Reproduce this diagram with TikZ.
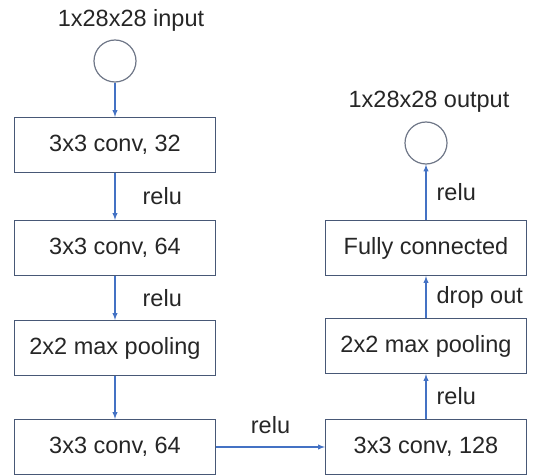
\documentclass[tikz,border=0pt]{standalone}
\usepackage{fontspec}
\setmainfont{Liberation Sans}
\usepackage{xcolor}
\usepackage{tikz}

\definecolor{linkblue}{RGB}{68,114,196}
\definecolor{boxgray}{RGB}{72,88,118}
\definecolor{ringgray}{RGB}{110,118,135}
\definecolor{textgray}{RGB}{38,38,38}

\begin{document}
\begin{tikzpicture}[x=1pt, y=-1pt,
        every node/.style={font=\fontsize{23.5}{28}\selectfont, text=textgray},
        layer/.style={draw=boxgray, line width=1.2pt, minimum width=201pt, minimum height=55pt, inner sep=0pt},
        port/.style={draw=ringgray, line width=1.2pt, circle, minimum size=42pt, inner sep=0pt},
        link/.style={draw=linkblue, line width=1.3pt, -latex},
        tag/.style={inner sep=0pt}]
        \useasboundingbox (0,0) rectangle (533,476);

        % left column
        \node[port] (in) at (115,61) {};
        \node[tag] (inlabel) at (131,20) {1x28x28 input};
        \node[layer] (conv1) at (115,145) {3x3 conv, 32};
        \node[layer] (conv2) at (115,248) {3x3 conv, 64};
        \node[layer] (pool1) at (115,348) {2x2 max pooling};
        \node[layer] (conv3) at (115,447) {3x3 conv, 64};

        % right column
        \node[layer] (conv4) at (426,447) {3x3 conv, 128};
        \node[layer] (pool2) at (426,346) {2x2 max pooling};
        \node[layer] (fc) at (426,248) {Fully connected};
        \node[port] (out) at (426,143) {};
        \node[tag] (outlabel) at (429,102) {1x28x28 output};

        \draw[link] (in) -- (conv1);
        \draw[link] (conv1) -- node[tag, right=27pt] {relu} (conv2);
        \draw[link] (conv2) -- node[tag, right=27pt] {relu} (pool1);
        \draw[link] (pool1) -- (conv3);
        \draw[link] (conv3) -- node[tag, above=13pt] {relu} (conv4);
        \draw[link] (conv4) -- node[tag, right=10pt] {relu} (pool2);
        \draw[link] (pool2) -- node[tag, right=10pt] {drop out} (fc);
        \draw[link] (fc) -- node[tag, right=10pt] {relu} (out);
    \end{tikzpicture}
\end{document}
